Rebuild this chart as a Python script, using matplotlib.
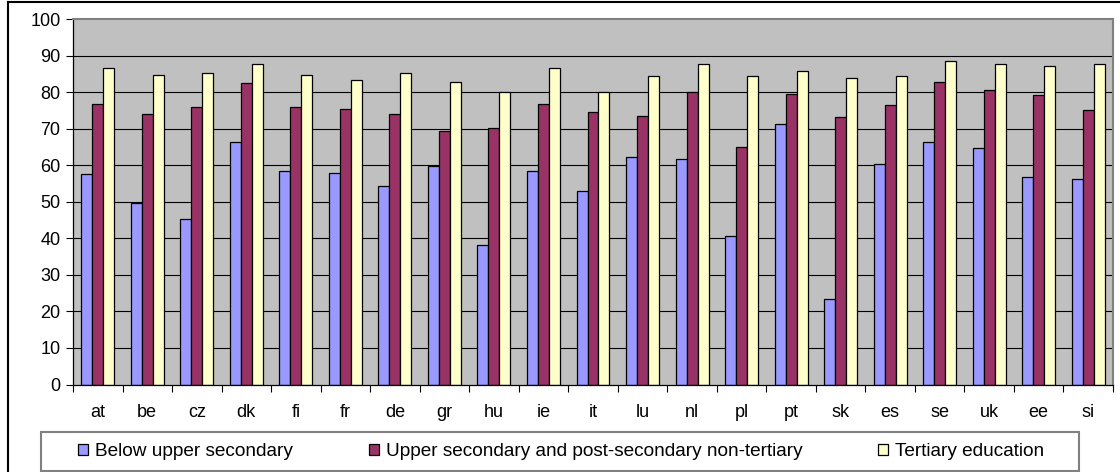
#!/usr/bin/env python3
import matplotlib
matplotlib.use('Agg')
import matplotlib.pyplot as plt
import numpy as np
from matplotlib.patches import Patch, Rectangle
from matplotlib.lines import Line2D

countries = ['at', 'be', 'cz', 'dk', 'fi', 'fr', 'de', 'gr', 'hu', 'ie', 'it',
             'lu', 'nl', 'pl', 'pt', 'sk', 'es', 'se', 'uk', 'ee', 'si']
below_upper = [57.7, 49.6, 45.4, 66.4, 58.5, 58.0, 54.3, 59.9, 38.3, 58.5, 52.9,
               62.3, 61.8, 40.7, 71.2, 23.4, 60.4, 66.4, 64.6, 56.7, 56.2]
upper_post = [76.8, 74.0, 75.9, 82.6, 75.9, 75.5, 74.0, 69.3, 70.3, 76.8, 74.5,
              73.5, 80.1, 65.1, 79.6, 73.1, 76.4, 82.9, 80.6, 79.2, 75.1]
tertiary = [86.7, 84.8, 85.3, 87.7, 84.8, 83.4, 85.3, 82.9, 80.1, 86.7, 80.1,
            84.3, 87.6, 84.3, 85.8, 83.9, 84.3, 88.6, 87.6, 87.1, 87.6]
series_names = ['Below upper secondary',
                'Upper secondary and post-secondary non-tertiary',
                'Tertiary education']
colors = ['#9999FF', '#993366', '#FFFFCC']

plt.rcParams['font.family'] = ['Liberation Sans', 'DejaVu Sans']
plt.rcParams['font.size'] = 13

W, H = 1120, 472
fig = plt.figure(figsize=(W / 100, H / 100), dpi=100)
ax = fig.add_axes([73 / W, (H - 384.5) / H, 1040 / W, 365.5 / H])
ax.set_facecolor('#C0C0C0')

x = np.arange(len(countries))
w = 0.222
for k, (vals, col) in enumerate(zip([below_upper, upper_post, tertiary], colors)):
    ax.bar(x + (k - 1) * w, vals, width=w, color=col, edgecolor='black',
           linewidth=0.9, zorder=3)

ax.set_xlim(-0.5, len(countries) - 0.5)
ax.set_ylim(0, 100)
ax.set_yticks(np.arange(0, 101, 10))
for yv in range(10, 100, 10):
    ax.axhline(yv, color='black', lw=0.8, zorder=1)

ax.set_xticks(np.arange(len(countries) + 1) - 0.5)
ax.set_xticklabels([])
ax.set_xticks(x, minor=True)
ax.set_xticklabels(countries, minor=True)
ax.tick_params(axis='x', which='major', direction='out', length=5, color='black')
ax.tick_params(axis='x', which='minor', length=0, pad=14)
ax.tick_params(axis='y', direction='out', length=5, pad=4)

for s in ['left', 'bottom']:
    ax.spines[s].set_color('black')
    ax.spines[s].set_linewidth(0.9)
for s in ['top', 'right']:
    ax.spines[s].set_color('#808080')
    ax.spines[s].set_linewidth(1.5)
ax.spines['bottom'].set_zorder(4)

# outer chart frame (cropped at right and bottom)
fig.add_artist(Line2D([8 / W, 8 / W], [0, (H - 2) / H], color='black', lw=1.5))
fig.add_artist(Line2D([8 / W, 1], [(H - 2) / H, (H - 2) / H], color='black', lw=1.5))

# legend box
fig.add_artist(Rectangle((41 / W, 1 / H), 1038 / W, 39 / H, transform=fig.transFigure,
                         facecolor='white', edgecolor='#808080', lw=1.5))
handles = [Patch(facecolor=c, edgecolor='black', linewidth=0.9) for c in colors]
leg = fig.legend(handles, series_names, ncol=3, mode='expand',
                 bbox_to_anchor=(78 / W, 1 / H, 966 / W, 39 / H),
                 loc='center left', frameon=False, fontsize=13.7,
                 handlelength=0.53, handleheight=0.53, handletextpad=0.37,
                 borderpad=0, borderaxespad=0)

fig.savefig('out.png', dpi=100)
